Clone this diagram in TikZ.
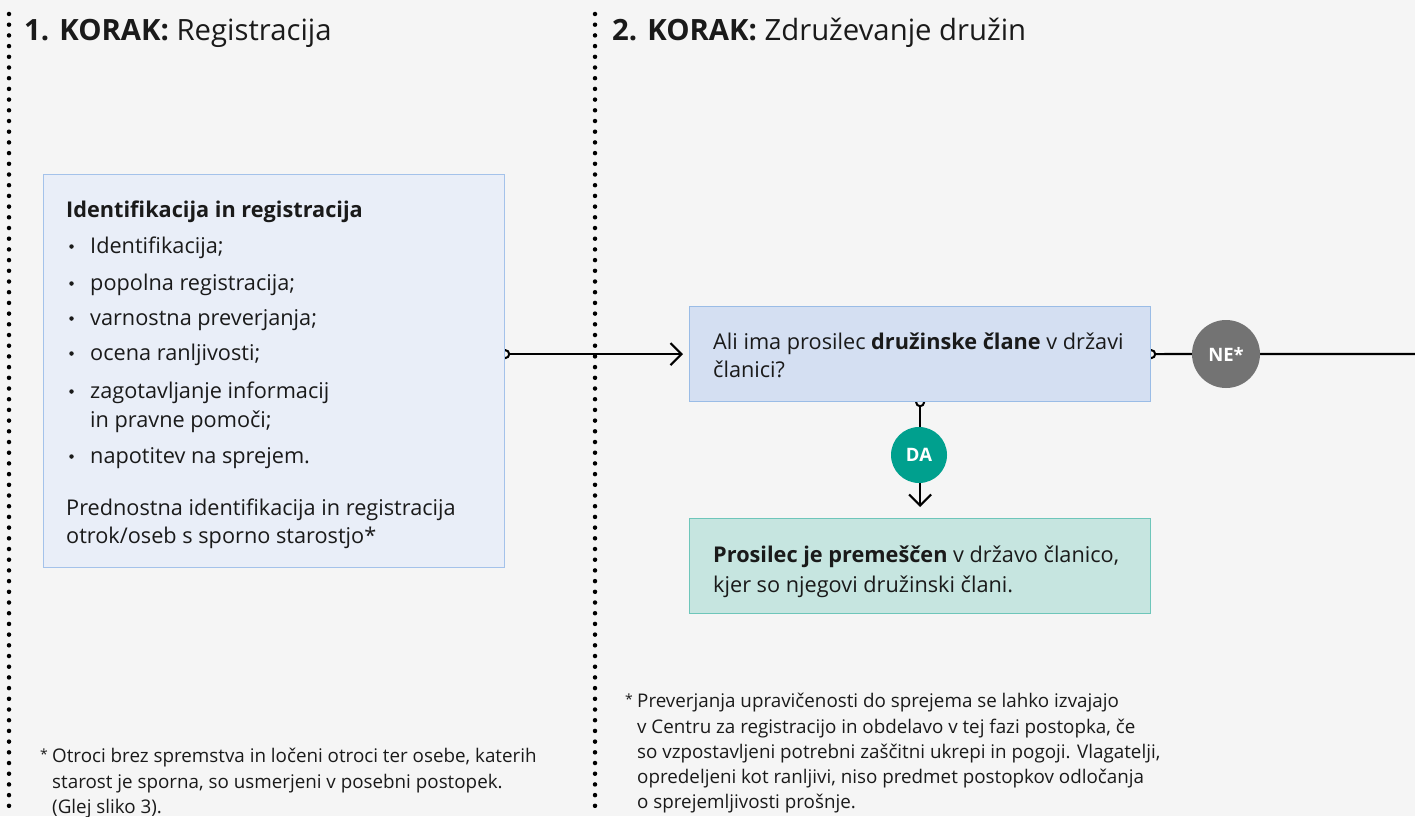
\documentclass[tikz,border=0pt]{standalone}
\usepackage{fontspec}
\setmainfont{Open Sans}
\usetikzlibrary{arrows.meta,backgrounds}

\definecolor{canvas}{HTML}{F5F5F5}
\definecolor{regfill}{HTML}{E9EEF8}
\definecolor{regline}{HTML}{A4C2EA}
\definecolor{qfill}{HTML}{D4DFF2}
\definecolor{qline}{HTML}{9ABCE6}
\definecolor{okfill}{HTML}{C6E5E0}
\definecolor{okline}{HTML}{6EC6BA}
\definecolor{yesfill}{HTML}{00A08E}
\definecolor{nofill}{HTML}{737373}
\definecolor{ink}{HTML}{1A1A1A}

\tikzset{
  box/.style={draw, line width=1.2bp, anchor=north west, inner sep=0pt},
  body/.style={anchor=base west, inner sep=0pt, text=ink,
    font=\fontsize{21.7bp}{28bp}\selectfont},
  head/.style={anchor=base west, inner sep=0pt, text=ink,
    font=\fontsize{29.3bp}{36bp}\selectfont},
  note/.style={anchor=base west, inner sep=0pt, text=ink,
    font=\fontsize{18.8bp}{24bp}\selectfont},
  star/.style={anchor=base west, inner sep=0pt, text=ink,
    font=\fontsize{14bp}{16bp}\selectfont},
  badge/.style={circle, inner sep=0pt, text=white,
    font=\bfseries\fontsize{18.5bp}{20bp}\selectfont},
  dot/.style={circle, fill=ink, inner sep=0pt, minimum size=4.5bp},
  conn/.style={line width=2.2bp, draw=black},
  dotline/.style={line width=4.5bp, line cap=round,
    dash pattern=on 0bp off 10.7bp},
  ctip/.tip={Circle[open, length=10bp, width=10bp, line width=2bp]},
  atip/.tip={Straight Barb[length=11bp, width=22bp, line width=2.2bp]}
}

\begin{document}
\begin{tikzpicture}[x=1bp, y=-1bp]
\useasboundingbox (0,0) rectangle (1415,816);

% step separators
\draw[dotline] (9,14) -- (9,808);
\draw[dotline] (595,14) -- (595,808);

% step titles
\node[head] (t1) at (24,41) {\textbf{1. KORAK:} Registracija};
\node[head] (t2) at (612,41) {\textbf{2. KORAK:} Združevanje družin};

% step 1: registration box
\node[box, fill=regfill, draw=regline, minimum width=461bp, minimum height=393bp] (reg) at (43,174) {};
\node[body] (r0) at (66,217) {\textbf{Identifikacija in registracija}};
\foreach \y/\t [count=\i] in {253/Identifikacija;, 290/popolna registracija;, 325/varnostna preverjanja;, 360/ocena ranljivosti;, 398/zagotavljanje informacij, 463/napotitev na sprejem.}{
  \node[dot] (rb\i) at (71.5,\y-6.5) {};
  \node[body] (ri\i) at (90,\y) {\t};
}
\node[body] (rc) at (90,427) {in pravne pomoči;};
\node[body] (rp1) at (66,515) {Prednostna identifikacija in registracija};
\node[body] (rp2) at (66,543) {otrok/oseb s sporno starostjo*};

% step 2: question box
\node[box, fill=qfill, draw=qline, minimum width=461bp, minimum height=95bp] (q) at (689,306) {};
\node[body] (q1) at (713,349) {Ali ima prosilec \textbf{družinske člane} v državi};
\node[body] (q2) at (713,377) {članici?};

% step 2: outcome box
\node[box, fill=okfill, draw=okline, minimum width=461bp, minimum height=95bp] (ok) at (689,518) {};
\node[body] (o1) at (713,562) {\textbf{Prosilec je premeščen} v državo članico,};
\node[body] (o2) at (713,592) {kjer so njegovi družinski člani.};

% answer badges
\node[badge, fill=nofill, minimum size=68bp] (ne) at (1226,354) {NE*};
\node[badge, fill=yesfill, minimum size=56bp] (da) at (919,455) {DA};
\coordinate (exit) at (1415,354);

% footnotes
\node[star] (fa) at (40,759) {*};
\node[note] (fa1) at (52,762) {Otroci brez spremstva in ločeni otroci ter osebe, katerih};
\node[note] (fa2) at (52,788) {starost je sporna, so usmerjeni v posebni postopek.};
\node[note] (fa3) at (52,813) {(Glej sliko 3).};

\node[star] (fb) at (625,704) {*};
\node[note] (fb1) at (637,707) {Preverjanja upravičenosti do sprejema se lahko izvajajo};
\node[note] (fb2) at (637,733) {v Centru za registracijo in obdelavo v tej fazi postopka, če};
\node[note] (fb3) at (637,758) {so vzpostavljeni potrebni zaščitni ukrepi in pogoji. Vlagatelji,};
\node[note] (fb4) at (637,783) {opredeljeni kot ranljivi, niso predmet postopkov odločanja};
\node[note] (fb5) at (637,808) {o sprejemljivosti prošnje.};

% connectors, kept behind the boxes and badges
\begin{pgfonlayer}{background}
\fill[canvas] (0,0) rectangle (1415,816);
\draw[conn, {ctip}-{atip}, shorten <=-5bp, shorten >=6bp] (reg.east |- q.west) -- (q.west);
\draw[conn, {ctip}-, shorten <=-5bp] (q.east) -- (exit);
\draw[conn, {ctip}-{atip}, shorten <=-5bp, shorten >=11bp] (q.south) -- (ok.north);
\end{pgfonlayer}
\end{tikzpicture}
\end{document}
